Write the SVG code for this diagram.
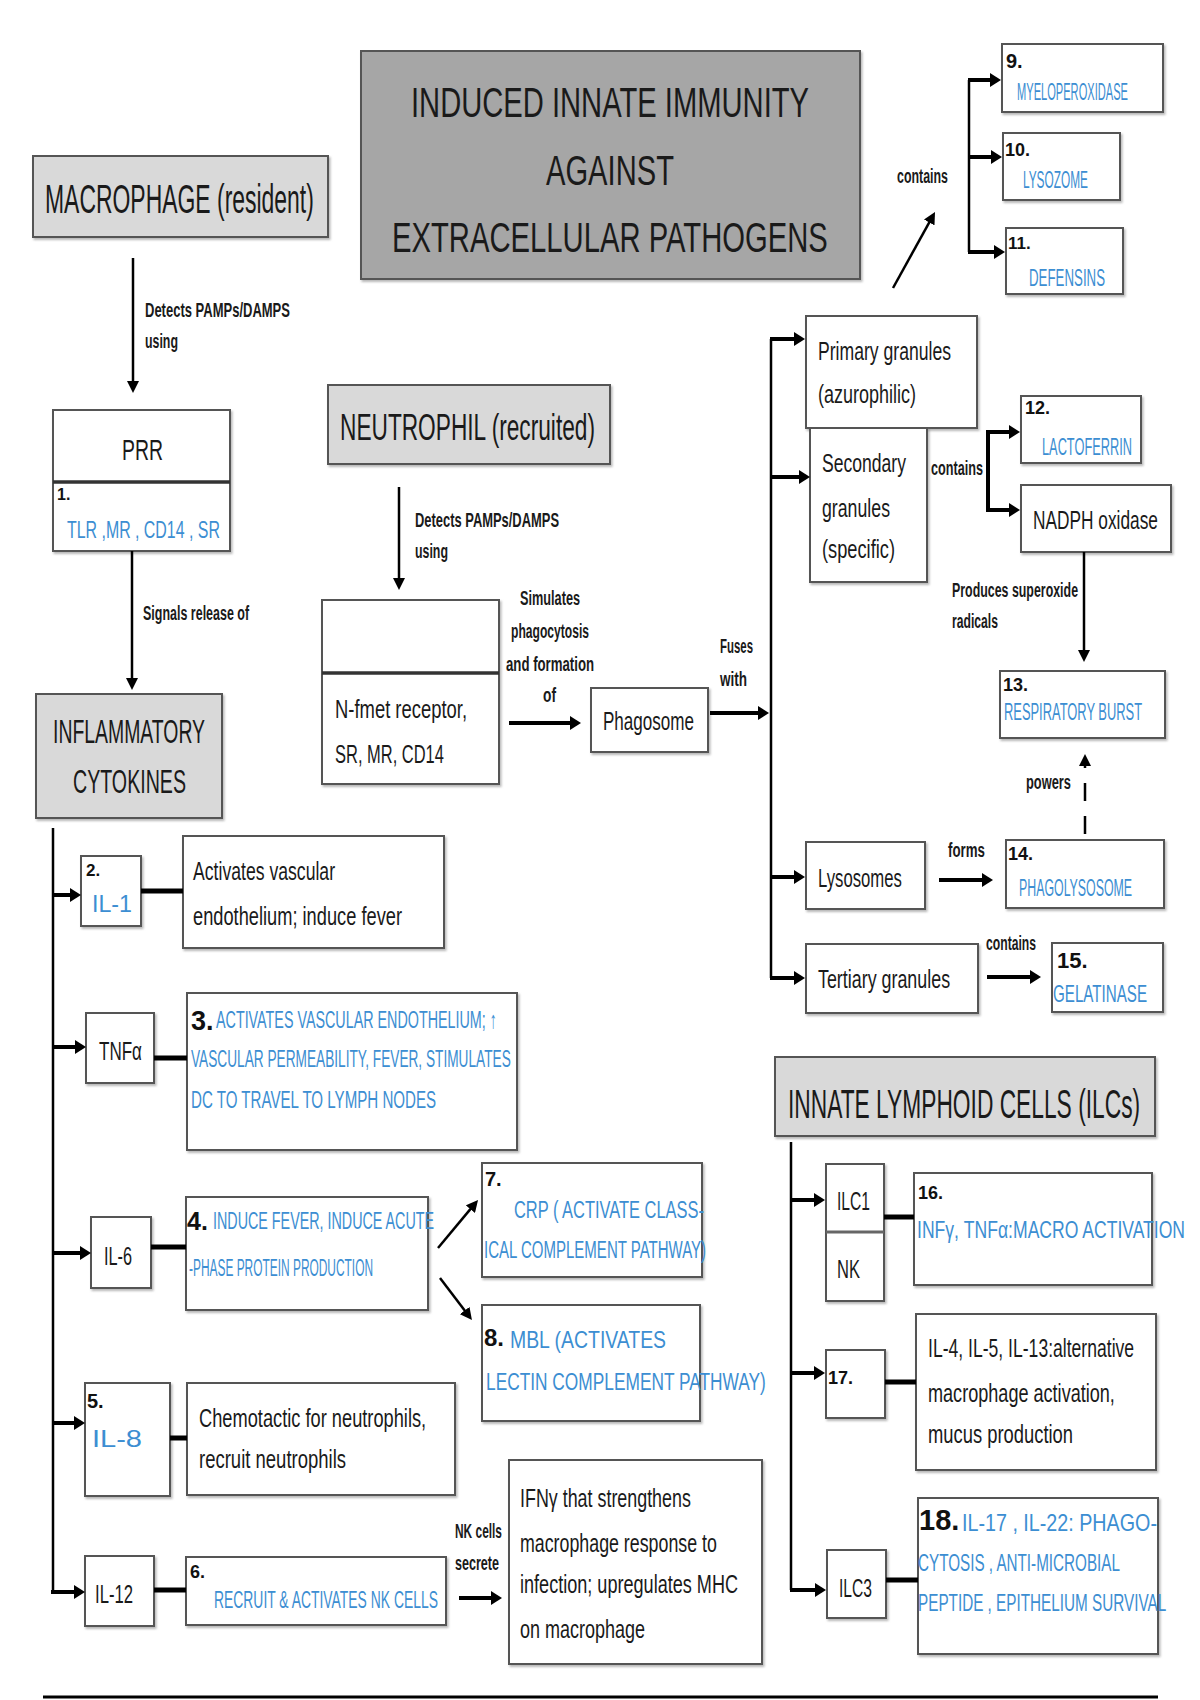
<svg xmlns="http://www.w3.org/2000/svg" width="1200" height="1700" viewBox="0 0 1200 1700">
<style>
text{font-family:"Liberation Sans",Arial,sans-serif}
.box{fill:#fff;stroke:#555;stroke-width:2;filter:url(#sh)}
.gbox{fill:#d9d9d9;stroke:#555;stroke-width:2;filter:url(#sh)}
.tbox{fill:#a6a6a6;stroke:#555;stroke-width:2;filter:url(#sh)}
.hdr{fill:#1a1a1a}
.body{font-size:25px;fill:#1a1a1a}
.lbl{font-size:21px;font-weight:bold;fill:#1a1a1a}
.hw{font-size:24px;fill:#3c8ed2}
.num{font-weight:bold;fill:#111}
.ln{stroke:#000;stroke-width:2.5;fill:none}
.lb{stroke:#000;stroke-width:4;fill:none}
.cn{stroke:#000;stroke-width:5;fill:none}
.dv{stroke:#333;stroke-width:3.5}
</style>
<defs>
<filter id="sh" x="-5%" y="-5%" width="115%" height="120%"><feDropShadow dx="1.5" dy="2" stdDeviation="1" flood-color="#888" flood-opacity="0.6"/></filter>
<marker id="ah" viewBox="0 0 12 12" refX="1" refY="6" markerWidth="12" markerHeight="12" markerUnits="userSpaceOnUse" orient="auto"><path d="M0,0 L12,6 L0,12 z" fill="#000"/></marker>
<marker id="ahb" viewBox="0 0 11 14" refX="1" refY="7" markerWidth="11" markerHeight="14" markerUnits="userSpaceOnUse" orient="auto"><path d="M0,0 L11,7 L0,14 z" fill="#000"/></marker>
</defs>
<rect width="1200" height="1700" fill="#fff"/>

<g id="title">
<rect class="tbox" x="361" y="51" width="499" height="228"/>
<text class="hdr" font-size="42" transform="translate(411,117) scale(0.691,1)" textLength="576" lengthAdjust="spacingAndGlyphs">INDUCED INNATE IMMUNITY</text>
<text class="hdr" font-size="42" transform="translate(546,185) scale(0.694,1)" textLength="184.4" lengthAdjust="spacingAndGlyphs">AGAINST</text>
<text class="hdr" font-size="42" transform="translate(392,252) scale(0.689,1)" textLength="632.5" lengthAdjust="spacingAndGlyphs">EXTRACELLULAR PATHOGENS</text>
</g>

<g id="macrophage">
<rect class="gbox" x="33" y="156" width="295" height="81"/>
<text class="hdr" font-size="41" transform="translate(45,213) scale(0.561,1)" textLength="479.3" lengthAdjust="spacingAndGlyphs">MACROPHAGE (resident)</text>
</g>

<g id="prr">
<rect class="box" x="53" y="410" width="177" height="141"/>
<line class="dv" x1="53" y1="482" x2="230" y2="482"/>
<text class="hdr" font-size="30" transform="translate(122,460) scale(0.648,1)" textLength="63.3" lengthAdjust="spacingAndGlyphs">PRR</text>
<text class="num" x="57" y="500" font-size="16">1.</text>
<text class="hw" font-size="32" transform="translate(67,538) scale(0.497,1)" textLength="307.6" lengthAdjust="spacingAndGlyphs">TLR ,MR , CD14 , SR</text>
</g>

<g id="inflammatory">
<rect class="gbox" x="36" y="694" width="186" height="124"/>
<text class="hdr" font-size="34" transform="translate(53,743) scale(0.563,1)" textLength="270.1" lengthAdjust="spacingAndGlyphs">INFLAMMATORY</text>
<text class="hdr" font-size="34" transform="translate(73,793) scale(0.575,1)" textLength="196.5" lengthAdjust="spacingAndGlyphs">CYTOKINES</text>
</g>

<g id="neutrophil">
<rect class="gbox" x="328" y="385" width="282" height="79"/>
<text class="hdr" font-size="37" transform="translate(340,440) scale(0.611,1)" textLength="417.3" lengthAdjust="spacingAndGlyphs">NEUTROPHIL (recruited)</text>
</g>

<g id="receptor">
<rect class="box" x="322" y="600" width="177" height="184"/>
<line class="dv" x1="322" y1="673" x2="499" y2="673"/>
<text class="body" transform="translate(335,718) scale(0.731,1)" textLength="180.6" lengthAdjust="spacingAndGlyphs">N-fmet receptor,</text>
<text class="body" transform="translate(335,763) scale(0.659,1)" textLength="165.3" lengthAdjust="spacingAndGlyphs">SR, MR, CD14</text>
</g>

<g id="phagosome">
<rect class="box" x="591" y="688" width="117" height="64"/>
<text class="body" transform="translate(603,730) scale(0.682,1)" textLength="133.4" lengthAdjust="spacingAndGlyphs">Phagosome</text>
</g>

<g id="primary">
<rect class="box" x="806" y="316" width="171" height="112"/>
<text class="body" transform="translate(818,360) scale(0.704,1)" textLength="188.9" lengthAdjust="spacingAndGlyphs">Primary granules</text>
<text class="body" transform="translate(818,403) scale(0.72,1)" textLength="136.1" lengthAdjust="spacingAndGlyphs">(azurophilic)</text>
</g>

<g id="secondary">
<rect class="box" x="810" y="428" width="117" height="154"/>
<text class="body" transform="translate(822,472) scale(0.703,1)" textLength="119.5" lengthAdjust="spacingAndGlyphs">Secondary</text>
<text class="body" transform="translate(822,517) scale(0.709,1)" textLength="95.9" lengthAdjust="spacingAndGlyphs">granules</text>
<text class="body" transform="translate(822,558) scale(0.73,1)" textLength="100" lengthAdjust="spacingAndGlyphs">(specific)</text>
</g>

<g id="lysosomes">
<rect class="box" x="806" y="842" width="119" height="67"/>
<text class="body" transform="translate(818,887) scale(0.664,1)" textLength="126.4" lengthAdjust="spacingAndGlyphs">Lysosomes</text>
</g>

<g id="tertiary">
<rect class="box" x="806" y="944" width="172" height="69"/>
<text class="body" transform="translate(818,988) scale(0.704,1)" textLength="187.6" lengthAdjust="spacingAndGlyphs">Tertiary granules</text>
</g>

<g id="n9">
<rect class="box" x="1002" y="44" width="161" height="68"/>
<text class="num" x="1006" y="68" font-size="20">9.</text>
<text class="hw" transform="translate(1017,100) scale(0.451,1)" textLength="246" lengthAdjust="spacingAndGlyphs">MYELOPEROXIDASE</text>
</g>
<g id="n10">
<rect class="box" x="1003" y="133" width="117" height="67"/>
<text class="num" x="1005" y="156" font-size="18">10.</text>
<text class="hw" font-size="26" transform="translate(1023,188) scale(0.45,1)" textLength="144.5" lengthAdjust="spacingAndGlyphs">LYSOZOME</text>
</g>
<g id="n11">
<rect class="box" x="1006" y="228" width="117" height="66"/>
<text class="num" x="1008" y="249" font-size="17">11.</text>
<text class="hw" font-size="26" transform="translate(1029,286) scale(0.511,1)" textLength="148.8" lengthAdjust="spacingAndGlyphs">DEFENSINS</text>
</g>

<g id="n12">
<rect class="box" x="1021" y="396" width="120" height="67"/>
<text class="num" x="1025" y="414" font-size="18">12.</text>
<text class="hw" font-size="25" transform="translate(1042,455) scale(0.51,1)" textLength="176.4" lengthAdjust="spacingAndGlyphs">LACTOFERRIN</text>
</g>
<g id="nadph">
<rect class="box" x="1021" y="485" width="150" height="67"/>
<text class="body" transform="translate(1033,529) scale(0.692,1)" textLength="180.6" lengthAdjust="spacingAndGlyphs">NADPH oxidase</text>
</g>
<g id="n13">
<rect class="box" x="1000" y="671" width="165" height="67"/>
<text class="num" x="1003" y="691" font-size="18">13.</text>
<text class="hw" transform="translate(1004,720) scale(0.531,1)" textLength="260" lengthAdjust="spacingAndGlyphs">RESPIRATORY BURST</text>
</g>
<g id="n14">
<rect class="box" x="1006" y="840" width="158" height="68"/>
<text class="num" x="1008" y="860" font-size="18">14.</text>
<text class="hw" font-size="23" transform="translate(1019,896) scale(0.533,1)" textLength="212.2" lengthAdjust="spacingAndGlyphs">PHAGOLYSOSOME</text>
</g>
<g id="n15">
<rect class="box" x="1052" y="943" width="111" height="69"/>
<text class="num" x="1057" y="968" font-size="22">15.</text>
<text class="hw" font-size="25" transform="translate(1053,1002) scale(0.599,1)" textLength="157" lengthAdjust="spacingAndGlyphs">GELATINASE</text>
</g>

<g id="il1">
<rect class="box" x="81" y="856" width="60" height="70"/>
<text class="num" x="86" y="876" font-size="17">2.</text>
<text class="hw" font-size="28" transform="translate(92,912) scale(0.83,1)" textLength="48.2" lengthAdjust="spacingAndGlyphs">IL-1</text>
</g>
<g id="il1desc">
<rect class="box" x="183" y="836" width="261" height="112"/>
<text class="body" transform="translate(193,880) scale(0.705,1)" textLength="201.5" lengthAdjust="spacingAndGlyphs">Activates vascular</text>
<text class="body" transform="translate(193,925) scale(0.73,1)" textLength="286.3" lengthAdjust="spacingAndGlyphs">endothelium; induce fever</text>
</g>

<g id="tnf">
<rect class="box" x="86" y="1013" width="68" height="70"/>
<text class="body" font-size="27" transform="translate(99,1060) scale(0.632,1)" textLength="68" lengthAdjust="spacingAndGlyphs">TNFα</text>
</g>
<g id="tnfdesc">
<rect class="box" x="187" y="993" width="330" height="157"/>
<text class="num" x="191" y="1030" font-size="27">3.</text>
<text class="hw" transform="translate(216,1028) scale(0.587,1)" textLength="478.5" lengthAdjust="spacingAndGlyphs">ACTIVATES VASCULAR ENDOTHELIUM; ↑</text>
<text class="hw" transform="translate(191,1067) scale(0.563,1)" textLength="568" lengthAdjust="spacingAndGlyphs">VASCULAR PERMEABILITY, FEVER, STIMULATES</text>
<text class="hw" transform="translate(191,1108) scale(0.619,1)" textLength="396" lengthAdjust="spacingAndGlyphs">DC TO TRAVEL TO LYMPH NODES</text>
</g>

<g id="il6">
<rect class="box" x="91" y="1217" width="60" height="71"/>
<text class="body" font-size="26" transform="translate(104,1265) scale(0.625,1)" textLength="44.8" lengthAdjust="spacingAndGlyphs">IL-6</text>
</g>
<g id="il6desc">
<rect class="box" x="186" y="1197" width="242" height="113"/>
<text class="num" x="187" y="1230" font-size="25">4.</text>
<text class="hw" font-size="21" transform="translate(213,1229) scale(0.679,1)" textLength="325.6" lengthAdjust="spacingAndGlyphs">INDUCE FEVER, INDUCE ACUTE</text>
<text class="hw" font-size="21" transform="translate(189,1276) scale(0.568,1)" textLength="324" lengthAdjust="spacingAndGlyphs">-PHASE PROTEIN PRODUCTION</text>
</g>

<g id="n7">
<rect class="box" x="482" y="1163" width="220" height="114"/>
<text class="num" x="485" y="1186" font-size="20">7.</text>
<text class="hw" font-size="25" transform="translate(514,1218) scale(0.645,1)" textLength="294.5" lengthAdjust="spacingAndGlyphs">CRP ( ACTIVATE CLASS-</text>
<text class="hw" font-size="23" transform="translate(484,1258) scale(0.639,1)" textLength="347.6" lengthAdjust="spacingAndGlyphs">ICAL COMPLEMENT PATHWAY)</text>
</g>
<g id="n8">
<rect class="box" x="482" y="1305" width="218" height="116"/>
<text class="num" x="484" y="1346" font-size="24">8.</text>
<text class="hw" font-size="25" transform="translate(510,1348) scale(0.759,1)" textLength="205.6" lengthAdjust="spacingAndGlyphs">MBL (ACTIVATES</text>
<text class="hw" font-size="25" transform="translate(486,1390) scale(0.681,1)" textLength="411" lengthAdjust="spacingAndGlyphs">LECTIN COMPLEMENT PATHWAY)</text>
</g>

<g id="il8">
<rect class="box" x="85" y="1383" width="85" height="113"/>
<text class="num" x="87" y="1408" font-size="20">5.</text>
<text class="hw" font-size="33" transform="translate(92,1447) scale(0.879,1)" textLength="56.9" lengthAdjust="spacingAndGlyphs">IL-8</text>
</g>
<g id="il8desc">
<rect class="box" x="187" y="1383" width="268" height="112"/>
<text class="body" transform="translate(199,1427) scale(0.73,1)" textLength="311.2" lengthAdjust="spacingAndGlyphs">Chemotactic for neutrophils,</text>
<text class="body" transform="translate(199,1468) scale(0.74,1)" textLength="198.7" lengthAdjust="spacingAndGlyphs">recruit neutrophils</text>
</g>

<g id="il12">
<rect class="box" x="85" y="1556" width="69" height="70"/>
<text class="body" font-size="26" transform="translate(95,1603) scale(0.641,1)" textLength="59.3" lengthAdjust="spacingAndGlyphs">IL-12</text>
</g>
<g id="il12desc">
<rect class="box" x="186" y="1557" width="260" height="68"/>
<text class="num" x="190" y="1578" font-size="18">6.</text>
<text class="hw" font-size="23" transform="translate(214,1608) scale(0.596,1)" textLength="375.7" lengthAdjust="spacingAndGlyphs">RECRUIT &amp; ACTIVATES NK CELLS</text>
</g>

<g id="ifng">
<rect class="box" x="509" y="1460" width="253" height="204"/>
<text class="body" transform="translate(520,1507) scale(0.715,1)" textLength="239" lengthAdjust="spacingAndGlyphs">IFNγ that strengthens</text>
<text class="body" transform="translate(520,1552) scale(0.712,1)" textLength="276.5" lengthAdjust="spacingAndGlyphs">macrophage response to</text>
<text class="body" transform="translate(520,1593) scale(0.723,1)" textLength="301.5" lengthAdjust="spacingAndGlyphs">infection; upregulates MHC</text>
<text class="body" transform="translate(520,1638) scale(0.72,1)" textLength="173.7" lengthAdjust="spacingAndGlyphs">on macrophage</text>
</g>

<g id="ilcs">
<rect class="gbox" x="775" y="1057" width="380" height="79"/>
<text class="hdr" font-size="41" transform="translate(788,1118) scale(0.55,1)" textLength="640.2" lengthAdjust="spacingAndGlyphs">INNATE LYMPHOID CELLS (ILCs)</text>
</g>

<g id="ilc1nk">
<rect class="box" x="826" y="1164" width="58" height="137"/>
<line x1="826" y1="1232" x2="884" y2="1232" stroke="#666" stroke-width="3"/>
<text class="body" font-size="26" transform="translate(837,1210) scale(0.601,1)" textLength="54.9" lengthAdjust="spacingAndGlyphs">ILC1</text>
<text class="body" font-size="26" transform="translate(837,1278) scale(0.637,1)" textLength="36.1" lengthAdjust="spacingAndGlyphs">NK</text>
</g>
<g id="n16">
<rect class="box" x="914" y="1173" width="238" height="112"/>
<text class="num" x="918" y="1199" font-size="18">16.</text>
<text class="hw" font-size="25" transform="translate(917,1238) scale(0.693,1)" textLength="386.8" lengthAdjust="spacingAndGlyphs">INFγ, TNFα:MACRO ACTIVATION</text>
</g>

<g id="n17">
<rect class="box" x="826" y="1350" width="59" height="68"/>
<text class="num" x="828" y="1384" font-size="18">17.</text>
</g>
<g id="n17desc">
<rect class="box" x="916" y="1314" width="240" height="156"/>
<text class="body" transform="translate(928,1357) scale(0.703,1)" textLength="293.2" lengthAdjust="spacingAndGlyphs">IL-4, IL-5, IL-13:alternative</text>
<text class="body" transform="translate(928,1402) scale(0.723,1)" textLength="258.5" lengthAdjust="spacingAndGlyphs">macrophage activation,</text>
<text class="body" transform="translate(928,1443) scale(0.735,1)" textLength="197.3" lengthAdjust="spacingAndGlyphs">mucus production</text>
</g>

<g id="ilc3">
<rect class="box" x="827" y="1550" width="59" height="68"/>
<text class="body" font-size="26" transform="translate(839,1597) scale(0.601,1)" textLength="54.9" lengthAdjust="spacingAndGlyphs">ILC3</text>
</g>
<g id="n18">
<rect class="box" x="918" y="1498" width="240" height="156"/>
<text class="num" x="919" y="1530" font-size="29">18.</text>
<text class="hw" font-size="22" transform="translate(962,1531) scale(0.896,1)" textLength="217.6" lengthAdjust="spacingAndGlyphs">IL-17 , IL-22: PHAGO-</text>
<text class="hw" transform="translate(918,1571) scale(0.631,1)" textLength="320" lengthAdjust="spacingAndGlyphs">CYTOSIS , ANTI-MICROBIAL</text>
<text class="hw" transform="translate(918,1611) scale(0.633,1)" textLength="392" lengthAdjust="spacingAndGlyphs">PEPTIDE , EPITHELIUM SURVIVAL</text>
</g>

<g id="connectors">
<line class="ln" x1="133" y1="258" x2="133" y2="382" marker-end="url(#ah)"/>
<line class="ln" x1="132" y1="551" x2="132" y2="679" marker-end="url(#ah)"/>
<line class="ln" x1="399" y1="487" x2="399" y2="579" marker-end="url(#ah)"/>
<line class="ln" x1="1084" y1="552" x2="1084" y2="651" marker-end="url(#ah)"/>
<line class="lb" x1="509" y1="723" x2="571" y2="723" marker-end="url(#ahb)"/>
<line class="lb" x1="710" y1="713" x2="759" y2="713" marker-end="url(#ahb)"/>
<line class="lb" x1="939" y1="880" x2="983" y2="880" marker-end="url(#ahb)"/>
<line class="lb" x1="987" y1="977" x2="1031" y2="977" marker-end="url(#ahb)"/>
<line class="lb" x1="459" y1="1598" x2="492" y2="1598" marker-end="url(#ahb)"/>
<line class="ln" x1="893" y1="288" x2="929.7" y2="221.6" marker-end="url(#ah)"/>
<line class="ln" x1="438" y1="1248" x2="471" y2="1208.4" marker-end="url(#ah)"/>
<line class="ln" x1="440" y1="1278" x2="465.3" y2="1311.3" marker-end="url(#ah)"/>
<line class="ln" x1="1085" y1="834" x2="1085" y2="765" stroke-dasharray="18,15" marker-end="url(#ah)"/>
<path class="ln" d="M53,828 V1592"/>
<line class="lb" x1="52" y1="895" x2="71" y2="895" marker-end="url(#ahb)"/>
<line class="lb" x1="52" y1="1047" x2="76" y2="1047" marker-end="url(#ahb)"/>
<line class="lb" x1="52" y1="1253" x2="81" y2="1253" marker-end="url(#ahb)"/>
<line class="lb" x1="52" y1="1423" x2="75" y2="1423" marker-end="url(#ahb)"/>
<path class="lb" d="M53,1590 V1592 H75" marker-end="url(#ahb)"/>
<path class="ln" d="M771,339 V978"/>
<line class="lb" x1="770" y1="339" x2="795" y2="339" marker-end="url(#ahb)"/>
<line class="lb" x1="770" y1="477" x2="800" y2="477" marker-end="url(#ahb)"/>
<line class="lb" x1="770" y1="877" x2="795" y2="877" marker-end="url(#ahb)"/>
<line class="lb" x1="770" y1="978" x2="795" y2="978" marker-end="url(#ahb)"/>
<path class="ln" d="M791,1142 V1590"/>
<line class="lb" x1="790" y1="1200" x2="815" y2="1200" marker-end="url(#ahb)"/>
<line class="lb" x1="790" y1="1373" x2="815" y2="1373" marker-end="url(#ahb)"/>
<line class="lb" x1="790" y1="1590" x2="816" y2="1590" marker-end="url(#ahb)"/>
<path class="ln" d="M969,80 V252"/>
<line class="lb" x1="968" y1="80" x2="991" y2="80" marker-end="url(#ahb)"/>
<line class="lb" x1="968" y1="157" x2="992" y2="157" marker-end="url(#ahb)"/>
<line class="lb" x1="968" y1="252" x2="995" y2="252" marker-end="url(#ahb)"/>
<path class="lb" d="M988,432 V510"/>
<line class="lb" x1="986" y1="432" x2="1010" y2="432" marker-end="url(#ahb)"/>
<line class="lb" x1="986" y1="510" x2="1010" y2="510" marker-end="url(#ahb)"/>
<line class="cn" x1="141" y1="891" x2="183" y2="891"/>
<line class="cn" x1="154" y1="1058" x2="187" y2="1058"/>
<line class="cn" x1="151" y1="1247" x2="186" y2="1247"/>
<line class="cn" x1="170" y1="1438" x2="187" y2="1438"/>
<line class="cn" x1="154" y1="1590" x2="186" y2="1590"/>
<line class="cn" x1="884" y1="1217" x2="914" y2="1217"/>
<line class="cn" x1="885" y1="1382" x2="916" y2="1382"/>
<line class="cn" x1="886" y1="1580" x2="918" y2="1580"/>
<line x1="43" y1="1697" x2="1158" y2="1697" stroke="#000" stroke-width="3"/>
<g id="edge-labels">
<text class="lbl" transform="translate(145,317) scale(0.615,1)" textLength="235.7" lengthAdjust="spacingAndGlyphs">Detects PAMPs/DAMPS</text>
<text class="lbl" transform="translate(145,348) scale(0.589,1)" textLength="56" lengthAdjust="spacingAndGlyphs">using</text>
<text class="lbl" transform="translate(143,620) scale(0.594,1)" textLength="178.6" lengthAdjust="spacingAndGlyphs">Signals release of</text>
<text class="lbl" transform="translate(415,527) scale(0.611,1)" textLength="235.7" lengthAdjust="spacingAndGlyphs">Detects PAMPs/DAMPS</text>
<text class="lbl" transform="translate(415,558) scale(0.589,1)" textLength="56" lengthAdjust="spacingAndGlyphs">using</text>
<text class="lbl" transform="translate(520,605) scale(0.605,1)" textLength="99.2" lengthAdjust="spacingAndGlyphs">Simulates</text>
<text class="lbl" transform="translate(511,638) scale(0.576,1)" textLength="135.4" lengthAdjust="spacingAndGlyphs">phagocytosis</text>
<text class="lbl" transform="translate(506,671) scale(0.629,1)" textLength="140" lengthAdjust="spacingAndGlyphs">and formation</text>
<text class="lbl" transform="translate(543,702) scale(0.656,1)" textLength="19.8" lengthAdjust="spacingAndGlyphs">of</text>
<text class="lbl" transform="translate(720,653) scale(0.544,1)" textLength="60.7" lengthAdjust="spacingAndGlyphs">Fuses</text>
<text class="lbl" transform="translate(720,686) scale(0.643,1)" textLength="42" lengthAdjust="spacingAndGlyphs">with</text>
<text class="lbl" transform="translate(897,183) scale(0.59,1)" textLength="86.4" lengthAdjust="spacingAndGlyphs">contains</text>
<text class="lbl" transform="translate(931,475) scale(0.602,1)" textLength="86.4" lengthAdjust="spacingAndGlyphs">contains</text>
<text class="lbl" transform="translate(952,597) scale(0.59,1)" textLength="213.6" lengthAdjust="spacingAndGlyphs">Produces superoxide</text>
<text class="lbl" transform="translate(952,628) scale(0.579,1)" textLength="79.4" lengthAdjust="spacingAndGlyphs">radicals</text>
<text class="lbl" transform="translate(1026,789) scale(0.612,1)" textLength="73.5" lengthAdjust="spacingAndGlyphs">powers</text>
<text class="lbl" transform="translate(948,857) scale(0.634,1)" textLength="58.3" lengthAdjust="spacingAndGlyphs">forms</text>
<text class="lbl" transform="translate(986,950) scale(0.579,1)" textLength="86.4" lengthAdjust="spacingAndGlyphs">contains</text>
<text class="lbl" transform="translate(455,1538) scale(0.567,1)" textLength="82.9" lengthAdjust="spacingAndGlyphs">NK cells</text>
<text class="lbl" transform="translate(455,1570) scale(0.599,1)" textLength="73.5" lengthAdjust="spacingAndGlyphs">secrete</text>
</g>
</g>
</svg>
